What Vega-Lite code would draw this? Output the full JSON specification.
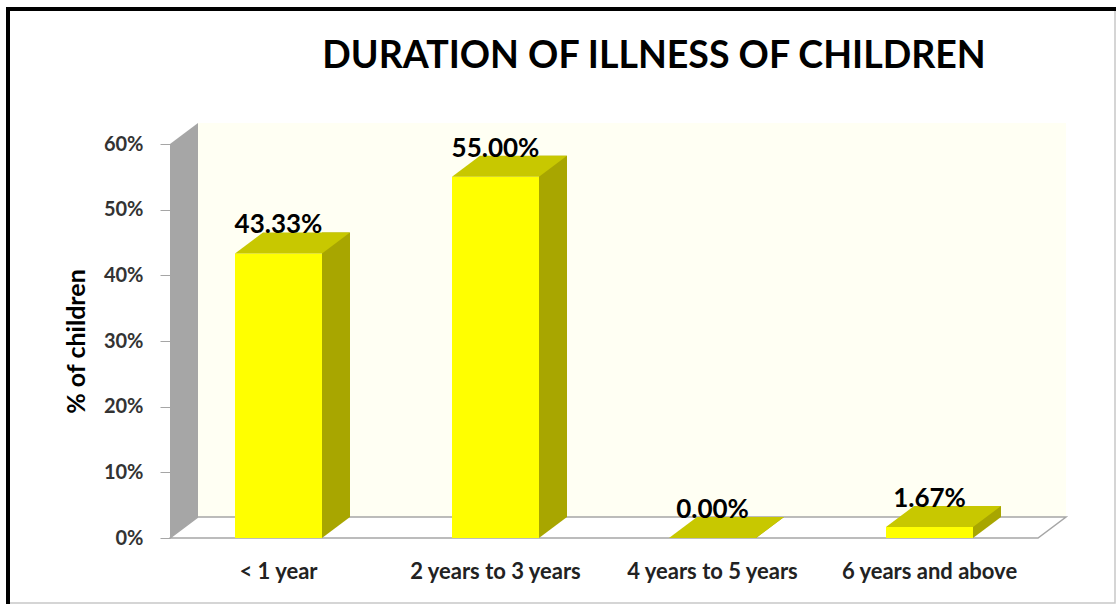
{
  "$schema": "https://vega.github.io/schema/vega-lite/v6.json",
  "width": 868,
  "height": 394,
  "autosize": {"type": "none"},
  "padding": {"left": 170, "top": 144, "right": 78, "bottom": 66},
  "background": "white",
  "title": {
    "text": "DURATION OF ILLNESS OF CHILDREN",
    "font": "Lato",
    "fontSize": 37.5,
    "fontWeight": "bold",
    "color": "#000000",
    "anchor": "middle",
    "baseline": "alphabetic",
    "dx": 50,
    "offset": -98
  },
  "config": {"view": {"stroke": null}},
  "data": {
    "values": [
      {"duration": "< 1 year", "share": 0.4333},
      {"duration": "2 years to 3 years", "share": 0.55},
      {"duration": "4 years to 5 years", "share": 0.0},
      {"duration": "6 years and above", "share": 0.0167}
    ]
  },
  "encoding": {
    "x": {
      "field": "duration",
      "type": "nominal",
      "sort": null,
      "scale": {"paddingInner": 0, "paddingOuter": 0},
      "axis": {
        "title": null,
        "labelAngle": 0,
        "domain": false,
        "ticks": false,
        "labelFont": "Lato",
        "labelFontSize": 22,
        "labelFontWeight": "bold",
        "labelColor": "#222222",
        "labelPadding": 23
      }
    },
    "y": {
      "field": "share",
      "type": "quantitative",
      "scale": {"domain": [0, 0.6], "nice": false},
      "axis": {
        "values": [0, 0.1, 0.2, 0.3, 0.4, 0.5, 0.6],
        "format": ".0%",
        "grid": false,
        "labelFont": "Lato",
        "labelFontSize": 20,
        "labelFontWeight": "bold",
        "labelColor": "#333333",
        "labelPadding": 17,
        "tickColor": "#a6a6a6",
        "tickSize": 10,
        "domainColor": "#a6a6a6",
        "title": "% of children",
        "titleFont": "Lato",
        "titleFontSize": 25,
        "titleFontWeight": "bold",
        "titleColor": "#000000",
        "titlePadding": 14
      }
    }
  },
  "layer": [
    {
      "description": "outer frame: heavy black top and left edges",
      "transform": [{"filter": "datum.duration === '< 1 year'"}],
      "mark": {
        "type": "point",
        "shape": "M-272.5,66 L-272.5,-531 L837.5,-531 L837.5,-527 L-268.5,-527 L-268.5,66 Z",
        "size": 4,
        "filled": true,
        "fill": "#000000",
        "strokeWidth": 0,
        "opacity": 1
      },
      "encoding": {"y": {"datum": 0}}
    },
    {
      "description": "outer frame: thin grey right and bottom edges",
      "transform": [{"filter": "datum.duration === '< 1 year'"}],
      "mark": {
        "type": "point",
        "shape": "M836.5,-527 L836.5,65 L-268.5,65",
        "size": 4,
        "filled": false,
        "stroke": "#c8c8c8",
        "strokeWidth": 1.5,
        "opacity": 1
      },
      "encoding": {"y": {"datum": 0}}
    },
    {
      "description": "back wall of the 3-D box, drawn from the first category",
      "transform": [{"filter": "datum.duration === '< 1 year'"}],
      "mark": {
        "type": "point",
        "shape": "M-80.5,-21 L-80.5,-415 L787.5,-415 L787.5,-21 Z",
        "size": 4,
        "filled": true,
        "fill": "#fffff3",
        "strokeWidth": 0,
        "opacity": 1
      },
      "encoding": {"y": {"datum": 0}}
    },
    {
      "description": "left side wall",
      "transform": [{"filter": "datum.duration === '< 1 year'"}],
      "mark": {
        "type": "point",
        "shape": "M-108.5,0 L-108.5,-394 L-80.5,-415 L-80.5,-21 Z",
        "size": 4,
        "filled": true,
        "fill": "#a6a6a6",
        "strokeWidth": 0,
        "opacity": 1
      },
      "encoding": {"y": {"datum": 0}}
    },
    {
      "description": "floor",
      "transform": [{"filter": "datum.duration === '< 1 year'"}],
      "mark": {
        "type": "point",
        "shape": "M-108.5,0 L-80.5,-21 L787.5,-21 L759.5,0 Z",
        "size": 4,
        "filled": true,
        "fill": "#ffffff",
        "stroke": "#a6a6a6",
        "strokeWidth": 1.5,
        "opacity": 1
      },
      "encoding": {"y": {"datum": 0}}
    },
    {
      "description": "right-hand face of each bar",
      "mark": {
        "type": "bar",
        "width": 28,
        "xOffset": 57.5,
        "yOffset": -21,
        "y2Offset": -21,
        "color": "#a8a600"
      },
      "encoding": {"y2": {"datum": 0}}
    },
    {
      "description": "lower corner of the right-hand face",
      "mark": {
        "type": "point",
        "shape": "M43.5,-21 L71.5,-21 L43.5,0 Z",
        "size": 4,
        "filled": true,
        "fill": "#a8a600",
        "strokeWidth": 0,
        "opacity": 1
      },
      "encoding": {"y": {"datum": 0}}
    },
    {
      "description": "front face of each bar",
      "mark": {"type": "bar", "width": 87, "color": "#ffff00"},
      "encoding": {"y2": {"datum": 0}}
    },
    {
      "description": "top face of each bar",
      "mark": {
        "type": "point",
        "shape": "M-43.5,0 L-15.5,-21 L71.5,-21 L43.5,0 Z",
        "size": 4,
        "filled": true,
        "fill": "#c8c800",
        "strokeWidth": 0,
        "opacity": 1
      }
    },
    {
      "description": "value labels",
      "mark": {
        "type": "text",
        "font": "Lato",
        "fontSize": 26,
        "fontWeight": "bold",
        "color": "#000000",
        "baseline": "alphabetic",
        "dy": -20
      },
      "encoding": {"text": {"field": "share", "type": "quantitative", "format": ".2%"}}
    }
  ]
}
